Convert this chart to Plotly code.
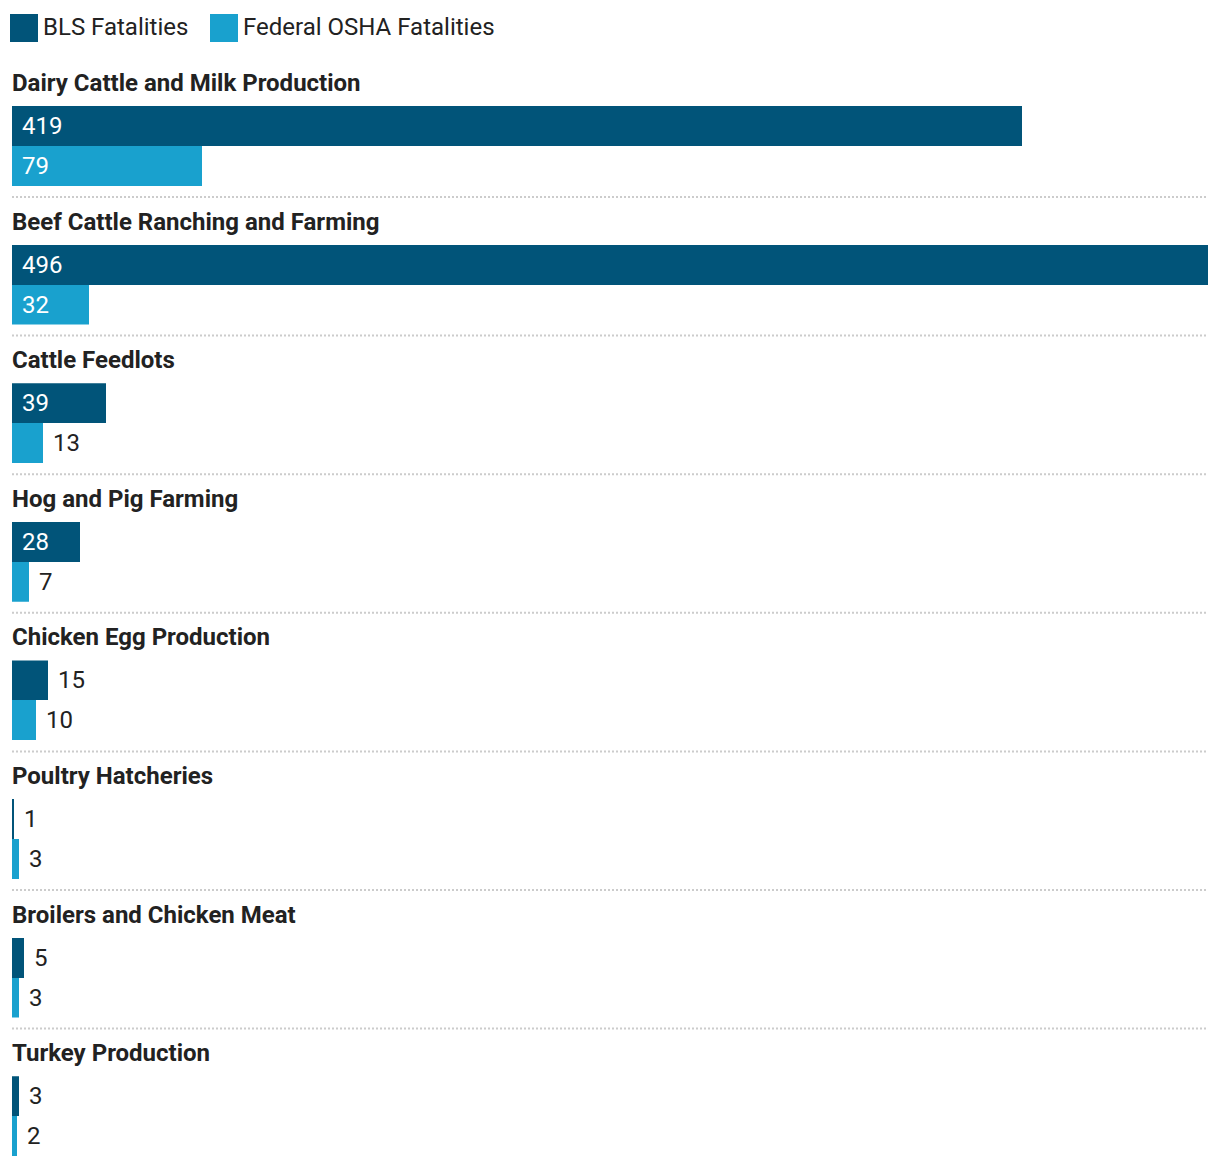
import plotly.graph_objects as go

categories = [
    "Dairy Cattle and Milk Production",
    "Beef Cattle Ranching and Farming",
    "Cattle Feedlots",
    "Hog and Pig Farming",
    "Chicken Egg Production",
    "Poultry Hatcheries",
    "Broilers and Chicken Meat",
    "Turkey Production",
]
series_names = ["BLS Fatalities", "Federal OSHA Fatalities"]
bls_values = [419, 496, 39, 28, 15, 1, 5, 3]
osha_values = [79, 32, 13, 7, 10, 3, 3, 2]
colors = ["#015479", "#19a1ce"]

# page has an 8px body margin; figure coordinates = page coordinates - 8
OFF = 8
W, H = 1220 - OFF, 1168 - OFF
ML, MR = 12 - OFF, 12
PLOT_W = W - ML - MR
BAR_TOP0 = 106 - OFF
PITCH = 138.6
BAR_H = 40
FS = 24
FONT = "Roboto, 'Open Sans', sans-serif"
xmax = max(bls_values + osha_values)
px_per_unit = PLOT_W / xmax

def py(p):
    return 1 - p / H

fig = go.Figure()
layout = dict(
    width=W, height=H,
    margin=dict(l=ML, r=MR, t=0, b=0),
    plot_bgcolor="white", paper_bgcolor="white",
    showlegend=False, bargap=0,
    font=dict(family=FONT, size=FS, color="#222"),
)
annotations = []
shapes = []

for i, cat in enumerate(categories):
    n = "" if i == 0 else str(i + 1)
    xa, ya = "x" + n, "y" + n
    top = BAR_TOP0 + PITCH * i
    bottom = top + 2 * BAR_H
    vals = [bls_values[i], osha_values[i]]
    fig.add_trace(go.Bar(
        x=vals, y=series_names, orientation="h",
        marker=dict(color=colors, line=dict(width=0)),
        width=1, xaxis=xa, yaxis=ya, hoverinfo="x+y",
    ))
    layout["xaxis" + n] = dict(domain=[0, 1], range=[0, xmax], anchor=ya,
                              visible=False, fixedrange=True)
    layout["yaxis" + n] = dict(domain=[py(bottom), py(top)], anchor=xa,
                              type="category", categoryorder="array",
                              categoryarray=series_names, autorange="reversed",
                              visible=False, fixedrange=True)
    # category title
    annotations.append(dict(
        text="<b>" + cat + "</b>", xref="paper", yref="paper",
        x=0, y=py(top - 23), xanchor="left", yanchor="middle", xshift=-2,
        showarrow=False, font=dict(family=FONT, size=FS, color="#222"),
    ))
    # value labels
    for s, v in zip(series_names, vals):
        txt = str(v)
        txt_w = 13.5 * len(txt)
        inside = v * px_per_unit > txt_w + 24
        annotations.append(dict(
            text=txt, xref=xa, yref=ya, x=0 if inside else v, y=s,
            xanchor="left", yanchor="middle", xshift=8, showarrow=False,
            font=dict(family=FONT, size=FS, color="white" if inside else "#222"),
        ))
    # separator
    if i < len(categories) - 1:
        sep = bottom + 11
        shapes.append(dict(type="line", xref="paper", yref="paper",
                           x0=0, x1=1, y0=py(sep), y1=py(sep),
                           line=dict(color="#cccccc", width=2, dash="2px,2px")))

# manual legend
legend_x = [10 - OFF, 210 - OFF]
for name, col, lx in zip(series_names, colors, legend_x):
    shapes.append(dict(type="rect", xref="paper", yref="paper",
                       x0=(lx - ML) / PLOT_W, x1=(lx + 28 - ML) / PLOT_W,
                       y0=py(42 - OFF), y1=py(14 - OFF), fillcolor=col,
                       line=dict(width=0)))
    annotations.append(dict(
        text=name, xref="paper", yref="paper",
        x=(lx + 31 - ML) / PLOT_W, y=py(27 - OFF), xanchor="left",
        yanchor="middle", showarrow=False,
        font=dict(family=FONT, size=FS, color="#222"),
    ))

layout["annotations"] = annotations
layout["shapes"] = shapes
fig.update_layout(**layout)
fig.write_html("out.html", config={"displayModeBar": False})
